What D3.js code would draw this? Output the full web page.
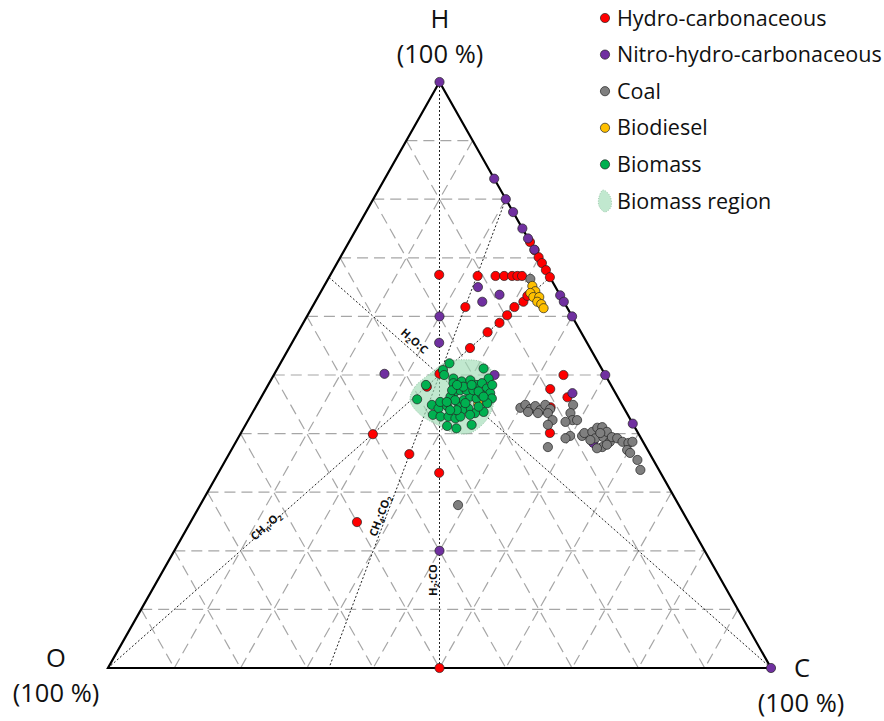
<!DOCTYPE html>
<meta charset="utf-8">
<style>
body { margin: 0; background: #fff; }
text { font-family: "Open Sans", Lato, sans-serif; }
.legendLabel { font-size: 21.5px; fill: #111; }
.vertexLabel { font-size: 25.5px; fill: #111; }
.lineLabel { font-size: 11px; font-weight: bold; fill: #111; }
.grid { fill: none; stroke: #a6a6a6; stroke-width: 1.2; stroke-dasharray: 11,6; }
.ref { fill: none; stroke: #222; stroke-width: 1; stroke-dasharray: 2,2; }
</style>
<body>
<script src="https://cdn.jsdelivr.net/npm/d3@7"></script>
<script>
// values are [H %, C %]; O % = 100 - H - C
const series = ["Hydro-carbonaceous", "Nitro-hydro-carbonaceous", "Coal", "Biodiesel", "Biomass"];
const colors = ["#ff0000", "#7030a0", "#7f7f7f", "#ffc000", "#00b050"];

const hydroCarb = [
  [67.1,16.4],[66.9,22.3],[66.9,25.0],[66.9,26.3],[66.9,27.5],[66.9,28.3],[66.9,29.0],
  [72.7,27.3],[71.3,28.7],[70.1,29.9],[69.1,30.9],[67.9,32.1],[66.7,33.3],
  [61.6,23.1],[60.2,30.1],[61.6,30.5],[62.5,31.4],[63.5,31.5],[58.9,29.6],[57.3,28.6],[54.6,27.3],
  [50.2,24.9],[48.0,24.1],[39.9,20.0],[36.5,27.2],[33.3,33.3],[24.9,25.1],[0,50],
  [50.0,43.7],[47.6,42.9],[46.2,46.2],[44.5,44.5],[40.1,46.6]
];
const nitroHydroCarb = [
  [100,0],[83.5,16.5],[80,20],[77.8,22.2],[75,25],[73.3,26.7],[71.4,28.6],[63.6,36.4],
  [62.5,37.5],[60,40],[50,50],[41.7,58.3],[0,100],[60,20],[55.5,22.2],[50.2,16.6],
  [50,33.3],[65,23.3],[62.5,25.2],[63.7,27.2],[46.9,46.6],[38.4,54.0],[20,40]
];
const coal = [
  [44.4,40.0],[44.9,40.5],[44.2,41.6],[44.7,42.1],[44.0,43.2],[44.9,43.5],[44.2,44.6],
  [43.7,41.5],[43.5,43.1],[43.5,44.6],[42.3,45.9],[41.5,45.6],[37.7,47.5],
  [44.9,47.7],[43.5,48.0],[42.3,48.9],[42.0,48.0],[42.3,49.6],[39.6,49.9],[39.2,49.4],
  [39.6,51.7],[40.1,51.8],[40.3,52.9],[41.0,53.3],[41.1,54.0],[39.2,53.9],[39.4,55.0],
  [40.3,55.1],[38.6,56.4],[37.7,55.7],[39.4,56.3],[39.2,57.2],[38.6,58.3],[38.4,59.3],
  [38.6,59.8],[37.2,59.7],[36.7,60.4],[35.5,62.1],[33.8,63.4],[37.5,55.0],[38.1,56.2],
  [40.1,54.2],[38.9,53.3],[27.8,38.9],[66.4,30.5]
];
const biodiesel = [
  [65.2,31.4],[64.3,32.3],[64.0,31.7],[63.3,32.5],[63.3,33.4],[62.5,33.5],[62.1,34.3],
  [61.4,35.0],[45.1,33.3]
];
const biomass = [
  [52.0,25.5],[50.85,25.1],[50.0,25.7],[48.3,23.8],[45.85,23.7],[44.9,26.4],[44.3,27.7],
  [44.7,28.8],[43.2,27.4],[42.9,28.7],[42.9,29.9],[42.6,31.1],[41.3,30.5],[40.9,32.1],
  [41.5,34.1],[51.1,31.1],[49.4,32.7],[49.4,27.4],[48.9,28.9],[49.1,30.1],[48.3,31.5],
  [48.6,32.1],[47.7,33.3],[46.9,34.2],[46.0,34.9],[45.2,34.6],[43.7,34.8],[43.5,33.6],
  [44.3,32.2],[44.0,31.4],[45.2,30.3],[45.7,30.8],[46.3,31.5],[46.0,32.6],[46.6,33.1],
  [47.2,28.8],[47.4,29.4],[47.4,30.4],[47.4,31.4],[47.2,32.3],[46.3,33.5],[48.6,27.8],
  [46.3,28.5],[45.7,29.5],[42.9,31.7],[43.2,33.0],[44.0,30.6],[44.0,29.6],[45.4,27.4],
  [44.6,33.6],[45.2,31.3],[45.4,28.4],[47.4,28.2],[48.0,29.6],[48.3,30.7],[48.3,28.5],
  [48.3,33.8]
];
const biomassRegion = [
  [45.7,22.7],[48.0,22.3],[50.3,23.5],[52.3,25.0],[52.6,27.8],[52.3,30.0],[51.1,32.1],
  [49.1,33.6],[46.3,35.1],[44.0,35.9],[41.8,35.8],[40.1,34.6],[40.1,32.1],[41.5,28.9],
  [43.2,25.5]
];
const gridSteps = [10, 20, 30, 40, 50, 60, 70, 80, 90];
// reference lines: [label, from [H,C], to [H,C]]
const refLines = [
  ["H2:CO",   [100, 0],     [0, 50]],
  ["CH4:CO2", [80, 20],     [0, 33.333]],
  ["CHn:O2",  [0, 0],       [66.667, 33.333]],
  ["H2O:C",   [66.667, 0],  [0, 100]]
];

const width = 884, height = 721;
const svg = d3.select("body").append("svg").attr("width", width).attr("height", height);

// H apex (439,82), O corner (108,668), C corner (771,668)
const yH = d3.scaleLinear().domain([0, 100]).range([668, 82]);
const xC = d3.scaleLinear().domain([0, 100]).range([0, 663]);
const xH = d3.scaleLinear().domain([0, 100]).range([0, 331.5]);
const proj = d => [108 + xC(d[1]) + xH(d[0]), yH(d[0])];

const g = svg.append("g");

// grid
const gridLines = [];
gridSteps.forEach(k => {
  gridLines.push([[k, 0], [k, 100 - k]]);          // constant H
  gridLines.push([[100 - k, k], [0, k]]);          // constant C
  gridLines.push([[100 - k, 0], [0, 100 - k]]);    // constant O
});
g.append("g").selectAll("line").data(gridLines).join("line")
  .attr("class", "grid")
  .attr("x1", d => proj(d[0])[0]).attr("y1", d => proj(d[0])[1])
  .attr("x2", d => proj(d[1])[0]).attr("y2", d => proj(d[1])[1]);

// reference dotted lines
g.append("g").selectAll("line").data(refLines).join("line")
  .attr("class", "ref")
  .attr("x1", d => proj(d[1])[0]).attr("y1", d => proj(d[1])[1])
  .attr("x2", d => proj(d[2])[0]).attr("y2", d => proj(d[2])[1]);

// biomass region
const smooth = d3.line().curve(d3.curveCatmullRomClosed.alpha(0.5));
g.append("path")
  .attr("d", smooth(biomassRegion.map(proj)))
  .attr("fill", "#9fdcb6").attr("fill-opacity", 0.65)
  .attr("stroke", "#8fbf9f").attr("stroke-width", 0.8).attr("stroke-dasharray", "1,1.5");

// triangle
g.append("path")
  .attr("d", d3.line()([[100, 0], [0, 0], [0, 100]].map(proj)) + "Z")
  .attr("fill", "none").attr("stroke", "#000").attr("stroke-width", 2.2);

// line labels (placed along each line, offset perpendicular)
function lineLabel(i, t, off, parts) {
  const d = refLines[i];
  const a = proj(d[1]), b = proj(d[2]);
  let ang = Math.atan2(b[1] - a[1], b[0] - a[0]) * 180 / Math.PI;
  if (ang > 85) ang -= 180;
  if (ang < -95) ang += 180;
  const p = [a[0] + (b[0] - a[0]) * t, a[1] + (b[1] - a[1]) * t];
  const txt = g.append("text").attr("class", "lineLabel")
    .attr("text-anchor", "middle")
    .attr("transform", `translate(${p[0]},${p[1]}) rotate(${ang}) translate(0,${off})`);
  parts.forEach(s => {
    txt.append("tspan").text(s[0])
      .attr("font-size", s[1] ? 7.5 : 11)
      .attr("dy", s[1] ? 2.5 : (s.length > 2 ? -2.5 : 0));
  });
}
lineLabel(0, 0.85, -3, [["H"], ["2", 1], [":CO", 0, 1]]);
lineLabel(1, 0.68, -2, [["CH"], ["4", 1], [":CO", 0, 1], ["2", 1]]);
lineLabel(2, 0.36, 2, [["CH"], ["n", 1], [":O", 0, 1], ["2", 1]]);
lineLabel(3, 0.18, -5, [["H"], ["2", 1], ["O:C", 0, 1]]);

// points
const groups = [hydroCarb, nitroHydroCarb, coal, biodiesel, biomass];
groups.forEach((pts, i) => {
  g.append("g").selectAll("circle").data(pts).join("circle")
    .attr("cx", d => proj(d)[0]).attr("cy", d => proj(d)[1])
    .attr("r", 4.6)
    .attr("fill", colors[i])
    .attr("stroke", "#222").attr("stroke-width", 0.7);
});

// vertex labels
const vLabels = [["H", 440, 28], ["(100 %)", 440, 63], ["O", 56, 667], ["(100 %)", 56, 702],
                 ["C", 802, 677], ["(100 %)", 801, 712]];
svg.append("g").selectAll("text").data(vLabels).join("text")
  .attr("class", "vertexLabel").attr("text-anchor", "middle")
  .attr("x", d => d[1]).attr("y", d => d[2]).text(d => d[0]);

// legend
const legend = svg.append("g").attr("transform", "translate(605,18)");
const items = series.concat(["Biomass region"]);
const li = legend.selectAll("g").data(items).join("g")
  .attr("transform", (d, i) => `translate(0,${i * 36.6})`);
li.filter((d, i) => i < 5).append("circle")
  .attr("r", 4.6).attr("fill", (d, i) => colors[i])
  .attr("stroke", "#222").attr("stroke-width", 0.7);
li.filter((d, i) => i === 5).append("path")
  .attr("d", d3.line().curve(d3.curveCatmullRomClosed)([[-2, -11], [5, -5], [6, 6], [0, 11], [-6, 5], [-6, -4]]))
  .attr("fill", "#9fdcb6").attr("fill-opacity", 0.65)
  .attr("stroke", "#8fbf9f").attr("stroke-width", 0.8).attr("stroke-dasharray", "1,1.5");
li.append("text").attr("class", "legendLabel")
  .attr("x", 12).attr("dy", "0.35em").text(d => d);
</script>
</body>
